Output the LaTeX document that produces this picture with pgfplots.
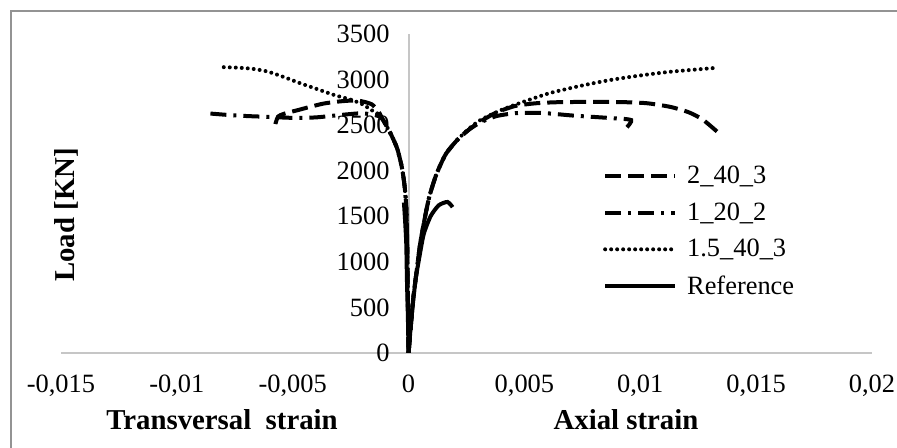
\documentclass[border=0pt]{standalone}
\usepackage{fontspec}
\setmainfont{Liberation Serif}
\usepackage{pgfplots}
\pgfplotsset{compat=1.18}

\tikzset{
  dashlong/.style={black, line width=2pt, dash pattern=on 8pt off 3.5pt},
  dashdot/.style={black, line width=2pt, dash pattern=on 8pt off 3.5pt on 1.5pt off 3.5pt},
  dots/.style={black, line width=2pt, line cap=round, dash pattern=on 0pt off 3pt},
  solidref/.style={black, line width=2pt},
}

\begin{document}
\begin{tikzpicture}
\useasboundingbox (0,0) rectangle (448.5pt,224pt);
\draw[gray!85, line width=0.8pt] (5.5pt,-5pt) |- (460pt,218.5pt);
\begin{axis}[
  at={(30.5pt,47.5pt)}, anchor=south west,
  scale only axis, width=405.5pt, height=159.5pt,
  xmin=-0.015, xmax=0.02, ymin=0, ymax=3500,
  axis x line=bottom, axis y line=middle,
  axis line style={-, draw=gray!45, line width=1pt},
  hide obscured x ticks=false, hide obscured y ticks=false,
  major tick length=0pt,
  xtick={-0.015,-0.01,-0.005,0,0.005,0.01,0.015,0.02},
  xticklabels={{-0,015},{-0,01},{-0,005},{0},{0,005},{0,01},{0,015},{0,02}},
  ytick={0,500,1000,1500,2000,2500,3000,3500},
  yticklabels={0,500,1000,1500,2000,2500,3000,3500},
  scaled x ticks=false, scaled y ticks=false,
  tick label style={font=\fontsize{13.2}{15}\selectfont},
  xticklabel style={yshift=-7.6pt},
  yticklabel style={xshift=-6pt},
  legend cell align=left,
  legend style={at={(axis description cs:0.668,0.594)}, anchor=north west,
    draw=none, fill=none, font=\fontsize{13.2}{15}\selectfont,
    row sep=6pt, column sep=4pt, inner sep=0pt,
    nodes={inner sep=1pt}},
  legend image code/.code={\draw[#1] (0pt,0pt) -- (35pt,0pt);},
  every axis plot/.append style={smooth, tension=0.4},
]
% 2_40_3
\addplot[dashlong, forget plot] coordinates {(0,0) (-0.00002,400) (-0.00004,800) (-0.00006,1200) (-0.0001,1600) (-0.00018,1850) (-0.0003,2050) (-0.0005,2250) (-0.0008,2420) (-0.0011,2556) (-0.0013,2650) (-0.0016,2730) (-0.0022,2770) (-0.0029,2762) (-0.0037,2735) (-0.0047,2670) (-0.0056,2600) (-0.0058,2450)};
\addplot[dashlong] coordinates {(0,0) (0.0001,300) (0.0002,600) (0.00035,900) (0.0005,1200) (0.0007,1480) (0.0009,1720) (0.0012,1960) (0.0016,2180) (0.0021,2337) (0.0026,2450) (0.0031,2540) (0.0038,2640) (0.0046,2710) (0.0055,2740) (0.0065,2752) (0.008,2755) (0.0093,2752) (0.0103,2740) (0.0113,2700) (0.0121,2640) (0.0127,2560) (0.0134,2410)};
% 1_20_2
\addplot[dashdot, forget plot] coordinates {(0,0) (-0.00002,400) (-0.00004,800) (-0.00006,1200) (-0.0001,1600) (-0.00018,1850) (-0.0003,2050) (-0.0005,2250) (-0.0008,2420) (-0.0011,2556) (-0.0013,2600) (-0.002,2630) (-0.003,2610) (-0.004,2585) (-0.005,2580) (-0.006,2590) (-0.007,2600) (-0.0078,2612) (-0.0087,2630)};
\addplot[dashdot] coordinates {(0,0) (0.0001,300) (0.0002,600) (0.00035,900) (0.0005,1200) (0.0007,1480) (0.0009,1720) (0.0012,1960) (0.0016,2180) (0.0021,2337) (0.0026,2450) (0.0031,2530) (0.0038,2600) (0.0047,2633) (0.0058,2633) (0.0071,2605) (0.0087,2578) (0.0096,2556) (0.0094,2470)};
% 1.5_40_3
\addplot[dots, forget plot] coordinates {(0,0) (-0.00002,400) (-0.00004,800) (-0.00006,1200) (-0.0001,1600) (-0.00018,1850) (-0.0003,2050) (-0.0005,2250) (-0.0008,2420) (-0.0011,2556) (-0.0013,2620) (-0.0016,2665) (-0.002,2730) (-0.0025,2780) (-0.0032,2830) (-0.004,2900) (-0.0047,2962) (-0.0053,3020) (-0.0058,3065) (-0.0062,3095) (-0.0068,3120) (-0.0075,3132) (-0.0081,3137)};
\addplot[dots] coordinates {(0,0) (0.0001,300) (0.0002,600) (0.00035,900) (0.0005,1200) (0.0007,1480) (0.0009,1720) (0.0012,1960) (0.0016,2180) (0.0021,2337) (0.0026,2460) (0.0031,2556) (0.004,2666) (0.005,2760) (0.0061,2852) (0.0074,2930) (0.0087,2995) (0.01,3045) (0.0112,3083) (0.0123,3108) (0.0132,3127)};
% Reference
\addplot[solidref, forget plot] coordinates {(0,0) (-0.00003,400) (-0.00007,800) (-0.0001,1200) (-0.00015,1450) (-0.0002,1650)};
\addplot[solidref] coordinates {(0,0) (0.00008,250) (0.00017,500) (0.0003,800) (0.00043,1000) (0.00065,1300) (0.00095,1500) (0.0013,1620) (0.00168,1657) (0.0019,1600)};
\legend{2\_40\_3, 1\_20\_2, 1.5\_40\_3, Reference}
\end{axis}
\node[rotate=90, font=\fontsize{14.4}{17}\selectfont\bfseries] at (33pt,116.5pt) {Load [KN]};
\node[font=\fontsize{14.4}{17}\selectfont\bfseries] at (111pt,14pt) {Transversal\ \ strain};
\node[font=\fontsize{14.4}{17}\selectfont\bfseries] at (313pt,14pt) {Axial strain};
\end{tikzpicture}
\end{document}
